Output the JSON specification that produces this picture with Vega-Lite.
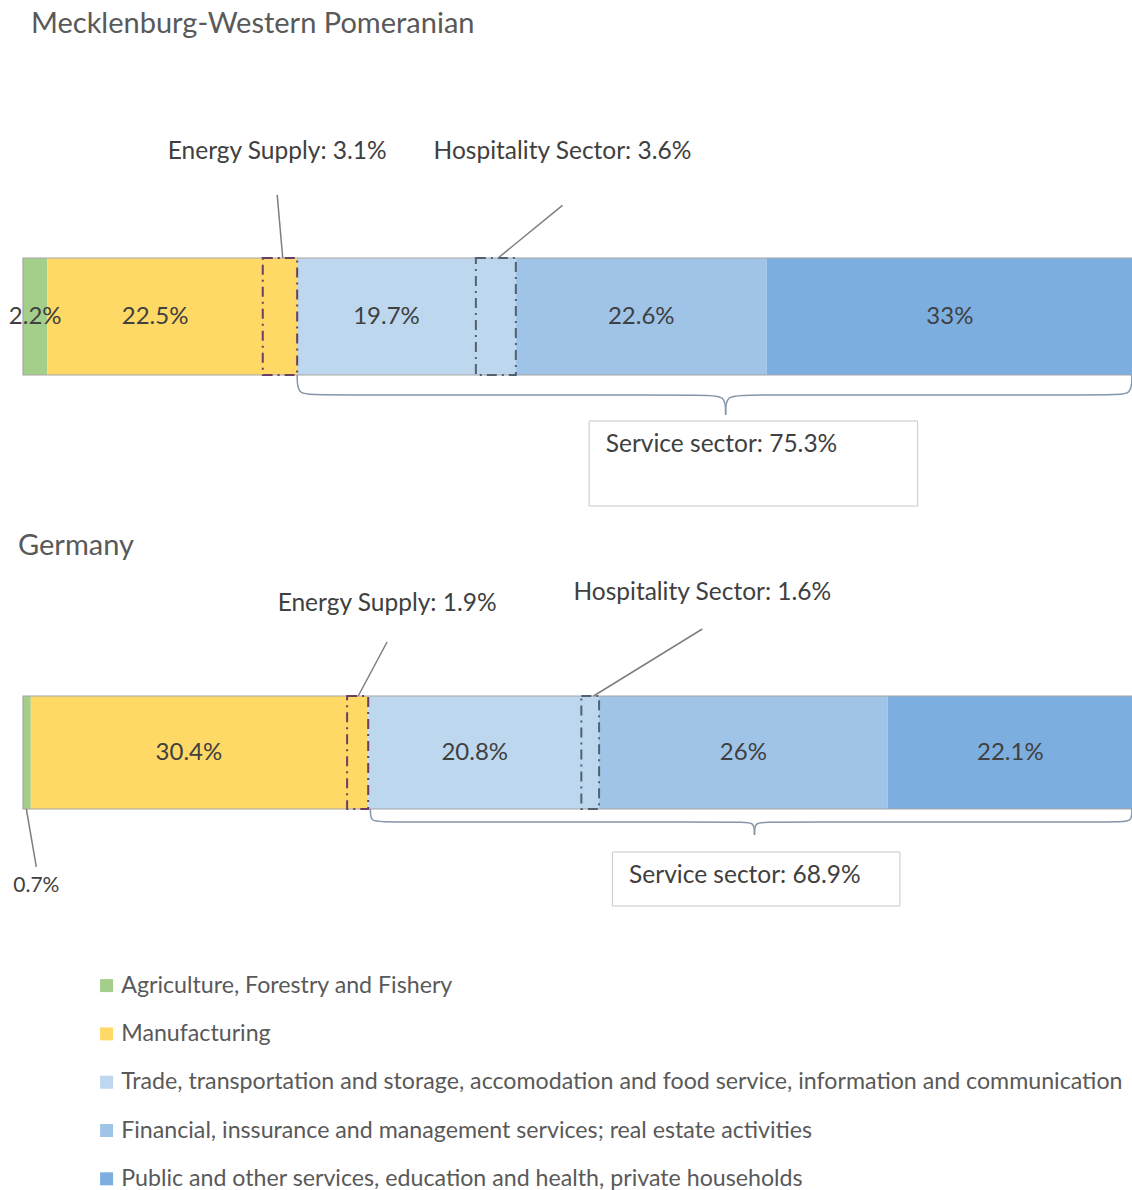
{
  "$schema": "https://vega.github.io/schema/vega-lite/v6.json",
  "padding": {"left": 8, "top": 9, "right": 0, "bottom": 0},
  "background": "white",
  "spacing": 24,
  "config": {
    "font": "Lato",
    "view": {"stroke": null},
    "title": {"font": "Lato", "fontSize": 29, "fontWeight": "normal", "color": "#595959", "anchor": "start", "frame": "group"},
    "legend": {"labelFont": "Lato"}
  },
  "datasets": {
    "pieces": [
      {"region": "MV", "order": 1, "sector": "Agriculture, Forestry and Fishery", "part": "", "value": 2.2, "label": "2.2%"},
      {"region": "MV", "order": 2, "sector": "Manufacturing", "part": "", "value": 19.4, "label": "22.5%"},
      {"region": "MV", "order": 3, "sector": "Manufacturing", "part": "Energy Supply", "value": 3.1, "label": ""},
      {"region": "MV", "order": 4, "sector": "Trade, transportation and storage, accomodation and food service, information and communication", "part": "", "value": 16.1, "label": "19.7%"},
      {"region": "MV", "order": 5, "sector": "Trade, transportation and storage, accomodation and food service, information and communication", "part": "Hospitality Sector", "value": 3.6, "label": ""},
      {"region": "MV", "order": 6, "sector": "Financial, inssurance and management services; real estate activities", "part": "", "value": 22.6, "label": "22.6%"},
      {"region": "MV", "order": 7, "sector": "Public and other services, education and health, private households", "part": "", "value": 33.0, "label": "33%"},
      {"region": "DE", "order": 1, "sector": "Agriculture, Forestry and Fishery", "part": "", "value": 0.7, "label": ""},
      {"region": "DE", "order": 2, "sector": "Manufacturing", "part": "", "value": 28.5, "label": "30.4%"},
      {"region": "DE", "order": 3, "sector": "Manufacturing", "part": "Energy Supply", "value": 1.9, "label": ""},
      {"region": "DE", "order": 4, "sector": "Trade, transportation and storage, accomodation and food service, information and communication", "part": "", "value": 19.2, "label": "20.8%"},
      {"region": "DE", "order": 5, "sector": "Trade, transportation and storage, accomodation and food service, information and communication", "part": "Hospitality Sector", "value": 1.6, "label": ""},
      {"region": "DE", "order": 6, "sector": "Financial, inssurance and management services; real estate activities", "part": "", "value": 26.0, "label": "26%"},
      {"region": "DE", "order": 7, "sector": "Public and other services, education and health, private households", "part": "", "value": 22.1, "label": "22.1%"}
    ],
    "callouts": [
      {"region": "MV", "text": "Energy Supply: 3.1%", "tx": 22.9, "ty": 1.906, "lx": 22.9, "ly": 1.54, "ax": 23.4, "ay": 1.0},
      {"region": "MV", "text": "Hospitality Sector: 3.6%", "tx": 48.6, "ty": 1.906, "lx": 48.6, "ly": 1.45, "ax": 42.8, "ay": 1.0},
      {"region": "DE", "text": "Energy Supply: 1.9%", "tx": 32.8, "ty": 1.814, "lx": 32.8, "ly": 1.478, "ax": 30.2, "ay": 1.0},
      {"region": "DE", "text": "Hospitality Sector: 1.6%", "tx": 61.2, "ty": 1.912, "lx": 61.2, "ly": 1.593, "ax": 51.4, "ay": 1.0},
      {"region": "DE", "text": "0.7%", "tx": 1.2, "ty": -0.681, "lx": 1.2, "ly": -0.513, "ax": 0.3, "ay": 0.0}
    ],
    "boxes": [
      {"region": "MV", "text": "Service sector: 75.3%", "bx0": 51.0, "bx1": 80.6, "by0": -0.393, "by1": -1.12, "tx": 52.5, "ty": -0.598},
      {"region": "DE", "text": "Service sector: 68.9%", "bx0": 53.1, "bx1": 79.0, "by0": -0.381, "by1": -0.858, "tx": 54.6, "ty": -0.593}
    ],
    "bars": [
      {"region": "MV", "lo": 0, "hi": 100, "bottom": 0, "top": 1},
      {"region": "DE", "lo": 0, "hi": 100, "bottom": 0, "top": 1}
    ],
    "brace": [
      {"region": "MV", "side": "L", "seq": 1, "bx": 24.7, "by": 0.0},
      {"region": "MV", "side": "L", "seq": 2, "bx": 24.7, "by": -0.171},
      {"region": "MV", "side": "L", "seq": 3, "bx": 26.5, "by": -0.171},
      {"region": "MV", "side": "L", "seq": 4, "bx": 61.5, "by": -0.171},
      {"region": "MV", "side": "L", "seq": 5, "bx": 63.3, "by": -0.171},
      {"region": "MV", "side": "L", "seq": 6, "bx": 63.3, "by": -0.342},
      {"region": "MV", "side": "R", "seq": 1, "bx": 63.3, "by": -0.342},
      {"region": "MV", "side": "R", "seq": 2, "bx": 63.3, "by": -0.171},
      {"region": "MV", "side": "R", "seq": 3, "bx": 65.1, "by": -0.171},
      {"region": "MV", "side": "R", "seq": 4, "bx": 98.2, "by": -0.171},
      {"region": "MV", "side": "R", "seq": 5, "bx": 99.9, "by": -0.171},
      {"region": "MV", "side": "R", "seq": 6, "bx": 99.9, "by": 0.0},
      {"region": "DE", "side": "L", "seq": 1, "bx": 31.3, "by": 0.0},
      {"region": "DE", "side": "L", "seq": 2, "bx": 31.3, "by": -0.115},
      {"region": "DE", "side": "L", "seq": 3, "bx": 32.5, "by": -0.115},
      {"region": "DE", "side": "L", "seq": 4, "bx": 64.7, "by": -0.115},
      {"region": "DE", "side": "L", "seq": 5, "bx": 65.9, "by": -0.115},
      {"region": "DE", "side": "L", "seq": 6, "bx": 65.9, "by": -0.23},
      {"region": "DE", "side": "R", "seq": 1, "bx": 65.9, "by": -0.23},
      {"region": "DE", "side": "R", "seq": 2, "bx": 65.9, "by": -0.115},
      {"region": "DE", "side": "R", "seq": 3, "bx": 67.1, "by": -0.115},
      {"region": "DE", "side": "R", "seq": 4, "bx": 98.8, "by": -0.115},
      {"region": "DE", "side": "R", "seq": 5, "bx": 99.9, "by": -0.115},
      {"region": "DE", "side": "R", "seq": 6, "bx": 99.9, "by": 0.0}
    ]
  },
  "vconcat": [
    {
      "width": 1110,
      "height": 117,
      "title": {"text": "Mecklenburg-Western Pomeranian", "offset": 100, "dx": 8},
      "layer": [
        {
          "data": {"name": "pieces"},
          "transform": [
            {"filter": "datum.region === 'MV'"},
            {"stack": "value", "groupby": ["region"], "sort": [{"field": "order", "order": "ascending"}], "as": ["x0", "x1"]},
            {"aggregate": [{"op": "min", "field": "x0", "as": "s0"}, {"op": "max", "field": "x1", "as": "s1"}], "groupby": ["sector"]}
          ],
          "mark": {"type": "rect"},
          "encoding": {
            "x": {"field": "s0", "type": "quantitative", "scale": {"domain": [0, 100], "nice": false, "zero": false}, "axis": null},
            "x2": {"field": "s1"},
            "color": {
              "field": "sector", "type": "nominal",
              "scale": {
                "domain": ["Agriculture, Forestry and Fishery", "Manufacturing", "Trade, transportation and storage, accomodation and food service, information and communication", "Financial, inssurance and management services; real estate activities", "Public and other services, education and health, private households"],
                "range": ["#a3cf8b", "#ffd966", "#bdd7ee", "#9fc4e7", "#7cafe0"]
              },
              "legend": {"orient": "none", "legendX": 72, "legendY": 716, "direction": "vertical", "title": null, "symbolType": "square", "symbolSize": 169, "symbolStrokeWidth": 0, "labelFontSize": 23.2, "labelColor": "#595959", "labelLimit": 1200, "rowPadding": 24.3, "labelOffset": 3}
            }
          }
        },
        {
          "data": {"name": "bars"},
          "transform": [{"filter": "datum.region === 'MV'"}],
          "mark": {"type": "rect", "fillOpacity": 0, "stroke": "#a6a6a6", "strokeWidth": 1.2},
          "encoding": {
            "x": {"field": "lo", "type": "quantitative"},
            "x2": {"field": "hi"},
            "y": {"field": "bottom", "type": "quantitative", "scale": {"domain": [0, 1], "nice": false, "zero": false}, "axis": null},
            "y2": {"field": "top"}
          }
        },
        {
          "data": {"name": "pieces"},
          "transform": [
            {"filter": "datum.region === 'MV'"},
            {"stack": "value", "groupby": ["region"], "sort": [{"field": "order", "order": "ascending"}], "as": ["x0", "x1"]},
            {"filter": "datum.part !== ''"}
          ],
          "mark": {"type": "rect", "fillOpacity": 0, "strokeWidth": 2, "strokeDash": [10, 5, 2, 5]},
          "encoding": {
            "x": {"field": "x0", "type": "quantitative"},
            "x2": {"field": "x1"},
            "stroke": {"field": "part", "type": "nominal", "scale": {"domain": ["Energy Supply", "Hospitality Sector"], "range": ["#6a3f63", "#526170"]}, "legend": null}
          }
        },
        {
          "data": {"name": "pieces"},
          "transform": [
            {"filter": "datum.region === 'MV'"},
            {"stack": "value", "groupby": ["region"], "sort": [{"field": "order", "order": "ascending"}], "as": ["x0", "x1"]},
            {"filter": "datum.label !== ''"},
            {"calculate": "(datum.x0 + datum.x1) / 2", "as": "mid"}
          ],
          "mark": {"type": "text", "fontSize": 24, "color": "#404040", "align": "center", "baseline": "middle"},
          "encoding": {
            "x": {"field": "mid", "type": "quantitative"},
            "text": {"field": "label", "type": "nominal"}
          }
        },
        {
          "data": {"name": "brace"},
          "transform": [{"filter": "datum.region === 'MV'"}],
          "mark": {"type": "line", "interpolate": "basis", "color": "#8496a9", "strokeWidth": 1.5},
          "encoding": {
            "x": {"field": "bx", "type": "quantitative"},
            "y": {"field": "by", "type": "quantitative"},
            "detail": {"field": "side", "type": "nominal"},
            "order": {"field": "seq", "type": "quantitative"}
          }
        },
        {
          "data": {"name": "boxes"},
          "transform": [{"filter": "datum.region === 'MV'"}],
          "mark": {"type": "rect", "fill": "white", "stroke": "#c8c8c8", "strokeWidth": 1},
          "encoding": {
            "x": {"field": "bx0", "type": "quantitative"},
            "x2": {"field": "bx1"},
            "y": {"field": "by0", "type": "quantitative"},
            "y2": {"field": "by1"}
          }
        },
        {
          "data": {"name": "boxes"},
          "transform": [{"filter": "datum.region === 'MV'"}],
          "mark": {"type": "text", "fontSize": 24.5, "color": "#404040", "align": "left", "baseline": "middle"},
          "encoding": {
            "x": {"field": "tx", "type": "quantitative"},
            "y": {"field": "ty", "type": "quantitative"},
            "text": {"field": "text", "type": "nominal"}
          }
        },
        {
          "data": {"name": "callouts"},
          "transform": [{"filter": "datum.region === 'MV'"}],
          "mark": {"type": "rule", "color": "#7f7f7f", "strokeWidth": 1.5},
          "encoding": {
            "x": {"field": "lx", "type": "quantitative"},
            "x2": {"field": "ax"},
            "y": {"field": "ly", "type": "quantitative"},
            "y2": {"field": "ay"}
          }
        },
        {
          "data": {"name": "callouts"},
          "transform": [{"filter": "datum.region === 'MV'"}],
          "mark": {"type": "text", "fontSize": 24.5, "color": "#404040", "align": "center", "baseline": "middle"},
          "encoding": {
            "x": {"field": "tx", "type": "quantitative"},
            "y": {"field": "ty", "type": "quantitative"},
            "text": {"field": "text", "type": "nominal"}
          }
        }
      ]
    },
    {
      "width": 1110,
      "height": 113,
      "title": {"text": "Germany", "offset": 19, "dx": -5},
      "layer": [
        {
          "data": {"name": "pieces"},
          "transform": [
            {"filter": "datum.region === 'DE'"},
            {"stack": "value", "groupby": ["region"], "sort": [{"field": "order", "order": "ascending"}], "as": ["x0", "x1"]},
            {"aggregate": [{"op": "min", "field": "x0", "as": "s0"}, {"op": "max", "field": "x1", "as": "s1"}], "groupby": ["sector"]}
          ],
          "mark": {"type": "rect"},
          "encoding": {
            "x": {"field": "s0", "type": "quantitative", "scale": {"domain": [0, 100], "nice": false, "zero": false}, "axis": null},
            "x2": {"field": "s1"},
            "color": {
              "field": "sector", "type": "nominal",
              "scale": {
                "domain": ["Agriculture, Forestry and Fishery", "Manufacturing", "Trade, transportation and storage, accomodation and food service, information and communication", "Financial, inssurance and management services; real estate activities", "Public and other services, education and health, private households"],
                "range": ["#a3cf8b", "#ffd966", "#bdd7ee", "#9fc4e7", "#7cafe0"]
              },
              "legend": {"orient": "none", "legendX": 72, "legendY": 716, "direction": "vertical", "title": null, "symbolType": "square", "symbolSize": 169, "symbolStrokeWidth": 0, "labelFontSize": 23.2, "labelColor": "#595959", "labelLimit": 1200, "rowPadding": 24.3, "labelOffset": 3}
            }
          }
        },
        {
          "data": {"name": "bars"},
          "transform": [{"filter": "datum.region === 'DE'"}],
          "mark": {"type": "rect", "fillOpacity": 0, "stroke": "#a6a6a6", "strokeWidth": 1.2},
          "encoding": {
            "x": {"field": "lo", "type": "quantitative"},
            "x2": {"field": "hi"},
            "y": {"field": "bottom", "type": "quantitative", "scale": {"domain": [0, 1], "nice": false, "zero": false}, "axis": null},
            "y2": {"field": "top"}
          }
        },
        {
          "data": {"name": "pieces"},
          "transform": [
            {"filter": "datum.region === 'DE'"},
            {"stack": "value", "groupby": ["region"], "sort": [{"field": "order", "order": "ascending"}], "as": ["x0", "x1"]},
            {"filter": "datum.part !== ''"}
          ],
          "mark": {"type": "rect", "fillOpacity": 0, "strokeWidth": 2, "strokeDash": [10, 5, 2, 5]},
          "encoding": {
            "x": {"field": "x0", "type": "quantitative"},
            "x2": {"field": "x1"},
            "stroke": {"field": "part", "type": "nominal", "scale": {"domain": ["Energy Supply", "Hospitality Sector"], "range": ["#6a3f63", "#526170"]}, "legend": null}
          }
        },
        {
          "data": {"name": "pieces"},
          "transform": [
            {"filter": "datum.region === 'DE'"},
            {"stack": "value", "groupby": ["region"], "sort": [{"field": "order", "order": "ascending"}], "as": ["x0", "x1"]},
            {"filter": "datum.label !== ''"},
            {"calculate": "(datum.x0 + datum.x1) / 2", "as": "mid"}
          ],
          "mark": {"type": "text", "fontSize": 24, "color": "#404040", "align": "center", "baseline": "middle"},
          "encoding": {
            "x": {"field": "mid", "type": "quantitative"},
            "text": {"field": "label", "type": "nominal"}
          }
        },
        {
          "data": {"name": "brace"},
          "transform": [{"filter": "datum.region === 'DE'"}],
          "mark": {"type": "line", "interpolate": "basis", "color": "#8496a9", "strokeWidth": 1.5},
          "encoding": {
            "x": {"field": "bx", "type": "quantitative"},
            "y": {"field": "by", "type": "quantitative"},
            "detail": {"field": "side", "type": "nominal"},
            "order": {"field": "seq", "type": "quantitative"}
          }
        },
        {
          "data": {"name": "boxes"},
          "transform": [{"filter": "datum.region === 'DE'"}],
          "mark": {"type": "rect", "fill": "white", "stroke": "#c8c8c8", "strokeWidth": 1},
          "encoding": {
            "x": {"field": "bx0", "type": "quantitative"},
            "x2": {"field": "bx1"},
            "y": {"field": "by0", "type": "quantitative"},
            "y2": {"field": "by1"}
          }
        },
        {
          "data": {"name": "boxes"},
          "transform": [{"filter": "datum.region === 'DE'"}],
          "mark": {"type": "text", "fontSize": 24.5, "color": "#404040", "align": "left", "baseline": "middle"},
          "encoding": {
            "x": {"field": "tx", "type": "quantitative"},
            "y": {"field": "ty", "type": "quantitative"},
            "text": {"field": "text", "type": "nominal"}
          }
        },
        {
          "data": {"name": "callouts"},
          "transform": [{"filter": "datum.region === 'DE'"}],
          "mark": {"type": "rule", "color": "#7f7f7f", "strokeWidth": 1.5},
          "encoding": {
            "x": {"field": "lx", "type": "quantitative"},
            "x2": {"field": "ax"},
            "y": {"field": "ly", "type": "quantitative"},
            "y2": {"field": "ay"}
          }
        },
        {
          "data": {"name": "callouts"},
          "transform": [{"filter": "datum.region === 'DE'"}],
          "mark": {"type": "text", "color": "#404040", "align": "center", "baseline": "middle"},
          "encoding": {
            "x": {"field": "tx", "type": "quantitative"},
            "y": {"field": "ty", "type": "quantitative"},
            "text": {"field": "text", "type": "nominal"},
            "size": {"condition": {"test": "datum.text === '0.7%'", "value": 21}, "value": 24.5}
          }
        }
      ]
    }
  ]
}
